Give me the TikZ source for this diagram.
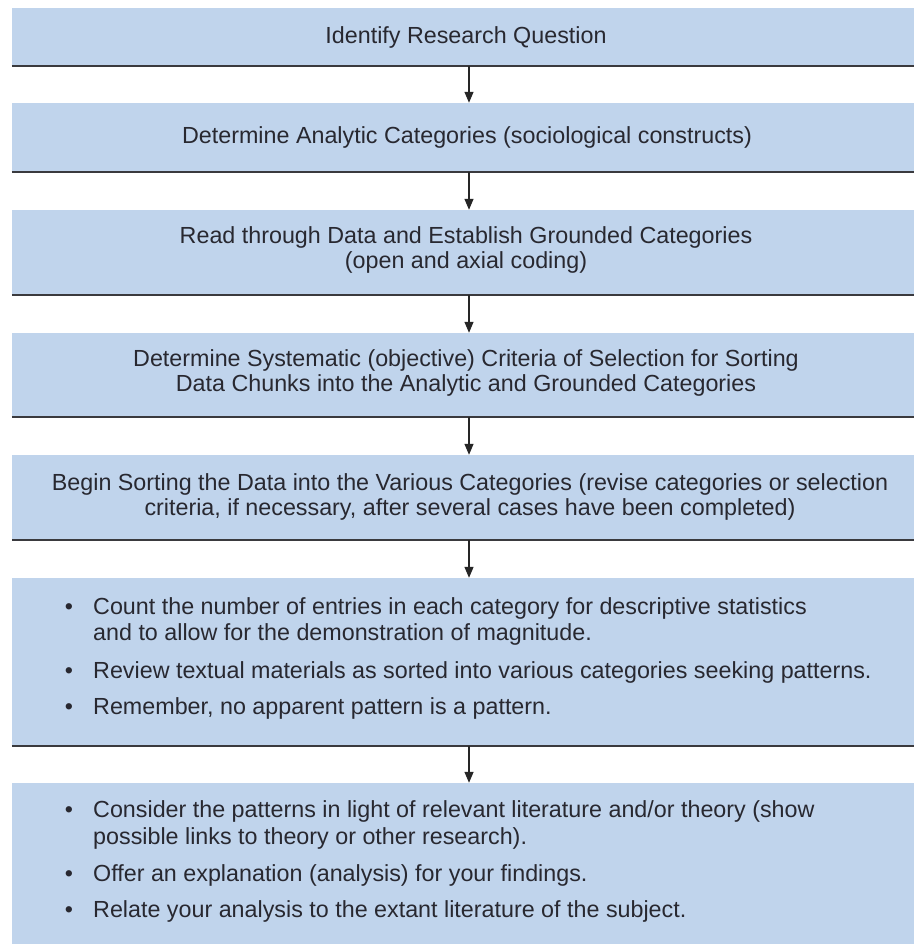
\documentclass[tikz,border=0pt]{standalone}
\usepackage{fontspec}
\setmainfont{Liberation Sans}
\usetikzlibrary{arrows.meta}
\definecolor{boxblue}{RGB}{192,212,236}
\definecolor{rulegray}{RGB}{58,58,62}
\definecolor{txt}{RGB}{40,40,48}
\newcommand{\bodyfont}{\fontsize{23.3}{25.5}\selectfont}
\begin{document}
\begin{tikzpicture}[x=1pt,y=-1pt,
  box/.style={fill=boxblue, inner sep=0pt, minimum width=902pt, align=center, text=txt, font=\bodyfont},
  boxtext/.style={inner sep=0pt, align=center, text=txt, font=\bodyfont},
  bottomrule/.style={draw=rulegray, line width=2pt},
  flow/.style={draw=black!85, line width=1.3pt, -{Triangle[length=11pt,width=9pt]}},
  btxt/.style={anchor=mid west, inner sep=0pt, text=txt, font=\bodyfont},
  bdot/.style={anchor=mid, inner sep=0pt, text=txt, font=\bodyfont}]
\useasboundingbox (0,0) rectangle (914,944);
\fill[white] (0,0) rectangle (914,944);
\coordinate (ax) at (469,0);

\node[box, minimum height=58pt] (b1) at (463,37) {};
\node[box, minimum height=69pt] (b2) at (463,137.5) {};
\node[box, minimum height=85pt] (b3) at (463,252.5) {};
\node[box, minimum height=84pt] (b4) at (463,375) {};
\node[box, minimum height=85pt] (b5) at (463,497.5) {};
\node[box, minimum height=168pt] (b6) at (463,662) {};
\node[box, minimum height=163pt] (b7) at (463,864.5) {};

\node[boxtext] (l1) at (466,37) {Identify Research Question};
\node[boxtext] (l2) at (467,137) {Determine Analytic Categories (sociological constructs)};
\node[boxtext] (l3) at (466,250) {Read through Data and Establish Grounded Categories\\(open and axial coding)};
\node[boxtext] (l4) at (466,373) {Determine Systematic (objective) Criteria of Selection for Sorting\\Data Chunks into the Analytic and Grounded Categories};
\node[boxtext] (l5) at (470,497) {Begin Sorting the Data into the Various Categories (revise categories or selection\\criteria, if necessary, after several cases have been completed)};

\foreach \b in {b1,b2,b3,b4,b5,b6}
  \draw[bottomrule] (\b.south west) -- (\b.south east);

\draw[flow] (b1.south -| ax) -- (b2.north -| ax);
\draw[flow] (b2.south -| ax) -- (b3.north -| ax);
\draw[flow] (b3.south -| ax) -- (b4.north -| ax);
\draw[flow] (b4.south -| ax) -- (b5.north -| ax);
\draw[flow] (b5.south -| ax) -- (b6.north -| ax);
\draw[flow] (b6.south -| ax) -- (b7.north -| ax);

% box 6 bullets
\node[bdot] (d61) at (69,612) {\textbullet};
\node[btxt] (t61) at (93,612) {Count the number of entries in each category for descriptive statistics};
\node[btxt] (t61b) at (93,638) {and to allow for the demonstration of magnitude.};
\node[bdot] (d62) at (69,676) {\textbullet};
\node[btxt] (t62) at (93,676) {Review textual materials as sorted into various categories seeking patterns.};
\node[bdot] (d63) at (69,712) {\textbullet};
\node[btxt] (t63) at (93,712) {Remember, no apparent pattern is a pattern.};

% box 7 bullets
\node[bdot] (d71) at (69,815) {\textbullet};
\node[btxt] (t71) at (93,815) {Consider the patterns in light of relevant literature and/or theory (show};
\node[btxt] (t71b) at (93,842) {possible links to theory or other research).};
\node[bdot] (d72) at (69,879) {\textbullet};
\node[btxt] (t72) at (93,879) {Offer an explanation (analysis) for your findings.};
\node[bdot] (d73) at (69,915) {\textbullet};
\node[btxt] (t73) at (93,915) {Relate your analysis to the extant literature of the subject.};
\end{tikzpicture}
\end{document}
